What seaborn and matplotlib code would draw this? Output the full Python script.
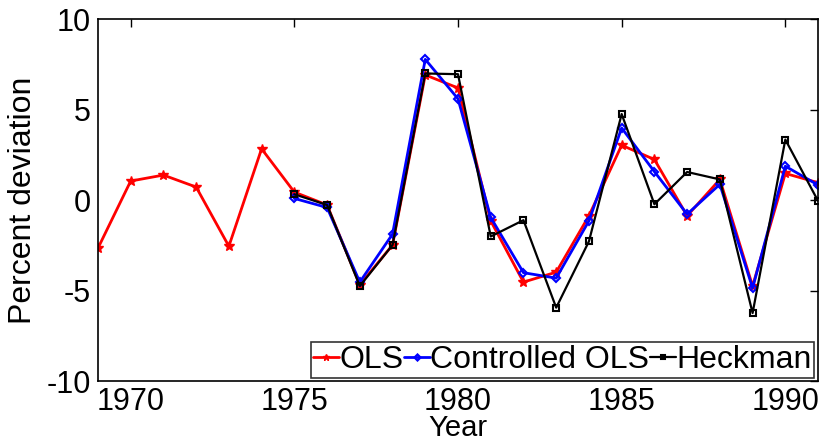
import numpy as np
import pandas as pd
import matplotlib
matplotlib.use("Agg")
import matplotlib.pyplot as plt
import seaborn as sns

years_ols = list(range(1969, 1992))
ols = [-2.65, 1.06, 1.39, 0.73, -2.54, 2.84, 0.45, -0.26, -4.67, -2.47, 6.92, 6.2,
       -1.14, -4.52, -3.97, -0.86, 3.04, 2.25, -0.86, 1.15, -4.74, 1.48, 0.97]
years_ctrl = list(range(1975, 1992))
ctrl = [0.1, -0.4, -4.52, -1.87, 7.78, 5.6, -0.95, -4.0, -4.3, -1.14, 3.99, 1.58,
        -0.77, 0.88, -4.85, 1.88, 0.84]
heck = [0.33, -0.26, -4.74, -2.47, 7.0, 6.96, -2.0, -1.1, -5.93, -2.27, 4.76, -0.22,
        1.56, 1.15, -6.23, 3.35, -0.04]
series_names = ["OLS", "Controlled OLS", "Heckman"]
xticks = [1970, 1975, 1980, 1985, 1990]
yticks = [-10, -5, 0, 5, 10]

df = pd.concat([
    pd.DataFrame({"Year": years_ols, "val": ols, "series": "OLS"}),
    pd.DataFrame({"Year": years_ctrl, "val": ctrl, "series": "Controlled OLS"}),
    pd.DataFrame({"Year": years_ctrl, "val": heck, "series": "Heckman"}),
])

sns.set_style("white")
plt.rcParams["font.family"] = ["Liberation Sans", "DejaVu Sans"]
plt.rcParams["axes.unicode_minus"] = False
plt.rcParams["text.color"] = "black"
plt.rcParams["axes.labelcolor"] = "black"
plt.rcParams["xtick.color"] = "black"
plt.rcParams["ytick.color"] = "black"

fig, ax = plt.subplots(figsize=(8.23, 4.45), dpi=100)
fig.subplots_adjust(left=0.119, right=0.994, top=0.957, bottom=0.143)

styles = {
    "OLS": dict(color="red", marker="*", ms=7, lw=2.0, mfc="red", mec="red"),
    "Controlled OLS": dict(color="blue", marker="D", ms=4.5, lw=2.0, mfc="none", mec="blue", mew=1.5),
    "Heckman": dict(color="black", marker="s", ms=4.5, lw=1.6, mfc="none", mec="black", mew=1.5),
}
for name in series_names:
    sub = df[df["series"] == name]
    st = styles[name]
    sns.lineplot(data=sub, x="Year", y="val", ax=ax, label=name, color=st["color"],
                 marker=st["marker"], markersize=st["ms"], linewidth=st["lw"],
                 markerfacecolor=st["mfc"], markeredgecolor=st["mec"],
                 markeredgewidth=st.get("mew", 1.0))

ax.set_xlim(1969, 1991)
ax.set_ylim(-10, 10)
ax.set_xticks(xticks)
ax.set_yticks(yticks)
ax.tick_params(direction="in", top=True, right=True, length=6, width=1,
               labelsize=22, colors="black", labelcolor="black")
ax.tick_params(axis="x", pad=4)
ax.tick_params(axis="y", pad=5)
for s in ax.spines.values():
    s.set_color("black")
    s.set_linewidth(1.2)
ax.set_xlabel("Year", fontsize=21, labelpad=-2, color="black")
ax.set_ylabel("Percent deviation", fontsize=23, labelpad=6, color="black")

leg = ax.legend(loc="lower right", ncol=3, fontsize=23, frameon=True, fancybox=False,
                handlelength=0.8, handletextpad=0.02, columnspacing=0.02,
                borderpad=0.08, borderaxespad=0.12, markerscale=0.7)
leg.get_frame().set_edgecolor("black")
leg.get_frame().set_linewidth(1.2)
for t in leg.get_texts():
    t.set_color("black")

fig.savefig("out.png", dpi=100)
